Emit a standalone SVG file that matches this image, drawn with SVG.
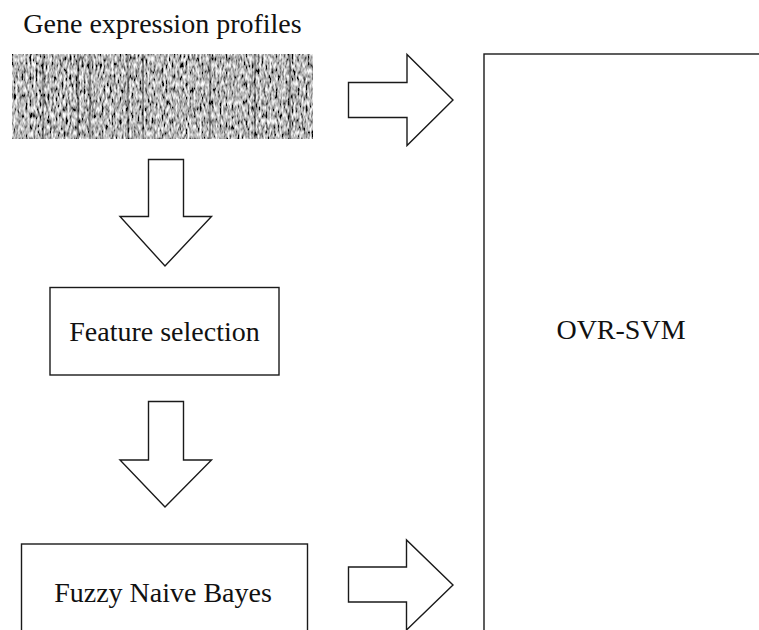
<svg xmlns="http://www.w3.org/2000/svg" width="759" height="630" viewBox="0 0 759 630">
  <style>
    .shape { fill: #ffffff; stroke: #1a1a1a; stroke-width: 1.4; stroke-linejoin: miter; }
    .label { font-family: "Liberation Serif", "Times New Roman", serif; font-size: 28px; fill: #111111; text-anchor: middle; }
  </style>
  <defs>
    <!-- grey microarray-like speckle, stretched vertically -->
    <filter id="speckle" x="0" y="0" width="100%" height="100%" filterUnits="objectBoundingBox">
      <feTurbulence type="fractalNoise" baseFrequency="0.5 0.16" numOctaves="2" seed="7" result="noise"/>
      <feColorMatrix in="noise" type="saturate" values="0" result="grey"/>
      <feComponentTransfer in="grey" result="contrast">
        <feFuncR type="linear" slope="2.8" intercept="-0.92"/>
        <feFuncG type="linear" slope="2.8" intercept="-0.92"/>
        <feFuncB type="linear" slope="2.8" intercept="-0.92"/>
        <feFuncA type="discrete" tableValues="1"/>
      </feComponentTransfer>
      <feGaussianBlur in="contrast" stdDeviation="0.45"/>
    </filter>
  </defs>

  <rect width="759" height="630" fill="#ffffff"/>

  <!-- Gene expression profiles -->
  <g id="gene-profiles">
    <text class="label" x="162.5" y="33">Gene expression profiles</text>
    <rect x="12" y="54" width="301" height="85" filter="url(#speckle)"/>
    <g stroke="#151515" stroke-opacity="0.45" stroke-width="1.6">
      <line x1="43" y1="54" x2="43" y2="139"/>
      <line x1="78" y1="54" x2="78" y2="139"/>
      <line x1="90" y1="54" x2="90" y2="139"/>
      <line x1="128" y1="54" x2="128" y2="139"/>
      <line x1="143" y1="54" x2="143" y2="139"/>
      <line x1="210" y1="54" x2="210" y2="139"/>
      <line x1="255" y1="54" x2="255" y2="139"/>
      <line x1="290" y1="54" x2="290" y2="139"/>
    </g>
  </g>

  <!-- Feature selection -->
  <g id="feature-selection">
    <rect class="shape" x="50" y="287.5" width="229" height="87.5"/>
    <text class="label" x="164.5" y="341">Feature selection</text>
  </g>

  <!-- Fuzzy Naive Bayes -->
  <g id="fuzzy-naive-bayes">
    <rect class="shape" x="21.5" y="544" width="286" height="120"/>
    <text class="label" x="163" y="602">Fuzzy Naive Bayes</text>
  </g>

  <!-- OVR-SVM -->
  <g id="ovr-svm">
    <rect class="shape" x="484" y="54" width="320" height="620"/>
    <text class="label" x="621" y="339">OVR-SVM</text>
  </g>

  <!-- block arrows -->
  <g id="connectors">
    <polygon class="shape" points="348.5,82.5 407,82.5 407,54.5 453,100 407,145.5 407,117.5 348.5,117.5"/>
    <polygon class="shape" points="148.5,159.5 183.5,159.5 183.5,216.5 211.5,216.5 165,266 120,216.5 148.5,216.5"/>
    <polygon class="shape" points="148.5,401.5 183.5,401.5 183.5,460 211.5,460 165,507 120,460 148.5,460"/>
    <polygon class="shape" points="348.5,567 406.5,567 406.5,540 453,585 406.5,630 406.5,602 348.5,602"/>
  </g>
</svg>
